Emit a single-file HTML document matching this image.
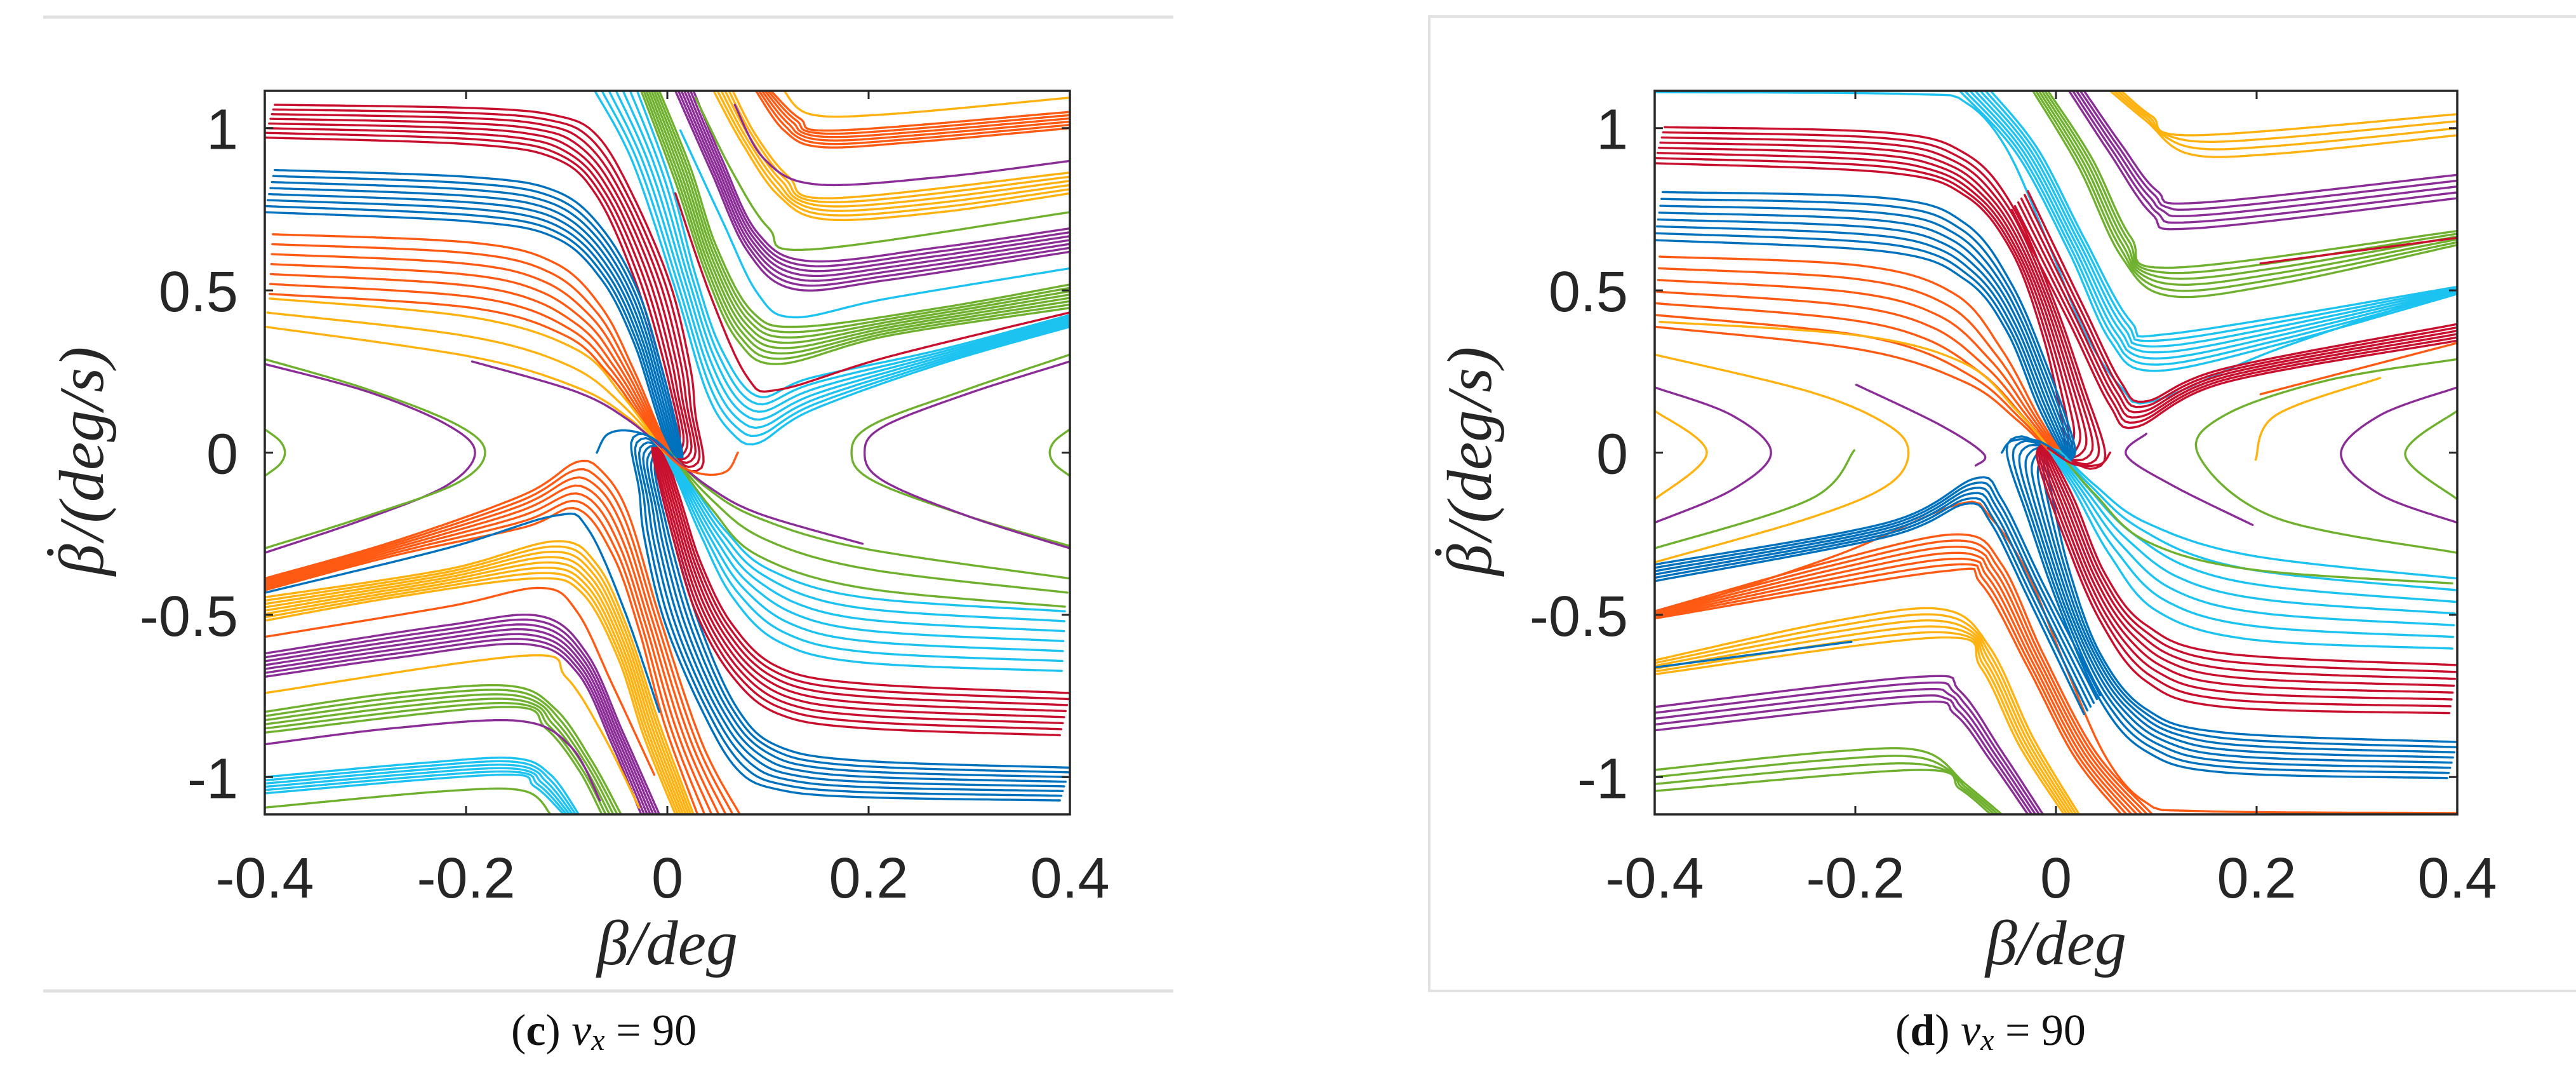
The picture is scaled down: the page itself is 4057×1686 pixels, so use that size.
<!DOCTYPE html>
<html><head><meta charset="utf-8"><style>
html,body{margin:0;padding:0;background:#fff;}
svg{display:block;}
.tick{font-family:"Liberation Sans",sans-serif;font-size:90px;fill:#262626;}
.ax{font-family:"Liberation Serif","DejaVu Serif",serif;font-style:italic;font-size:100px;fill:#262626;}
.cap{font-family:"Liberation Serif","DejaVu Serif",serif;font-size:70px;fill:#111;}
</style></head><body>
<svg id="fig" width="4057" height="1686" viewBox="0 0 4057 1686" xmlns="http://www.w3.org/2000/svg">
<defs>
<clipPath id="clipC"><rect x="417" y="143" width="1268" height="1139"/></clipPath>
<clipPath id="clipD"><rect x="2606" y="143" width="1264" height="1139"/></clipPath>
</defs>
<line x1="68" y1="27" x2="1848" y2="27" stroke="#e0e0e0" stroke-width="5"/>
<line x1="68" y1="1560" x2="1848" y2="1560" stroke="#e0e0e0" stroke-width="5"/>
<rect x="2251" y="26" width="1900" height="1534" fill="none" stroke="#e2e2e2" stroke-width="4"/>
<g id="plotC"></g>
<g id="plotD"></g>
<text class="cap" x="805" y="1645">(<tspan font-weight="bold">c</tspan>) <tspan font-style="italic">v</tspan><tspan font-style="italic" font-size="48" dy="8">x</tspan><tspan dy="-8"> = 90</tspan></text>
<text class="cap" x="2985" y="1645">(<tspan font-weight="bold">d</tspan>) <tspan font-style="italic">v</tspan><tspan font-style="italic" font-size="48" dy="8">x</tspan><tspan dy="-8"> = 90</tspan></text>
</svg>
<script>
const xTicks=[-0.4,-0.2,0,0.2,0.4];
const xTickLabels=['-0.4','-0.2','0','0.2','0.4'];
const yTicks=[-1,-0.5,0,0.5,1];
const yTickLabels=['-1','-0.5','0','0.5','1'];
const xDomain=[-0.4,0.4];
const yDomain=[-1.115,1.115];

// ---- panel (c) trajectories (upper half; lower half is drawn point-mirrored) ----
const cRedA=[[-0.390,1.072],[-0.194,1.062],[-0.111,1.039],[-0.070,0.978],[-0.034,0.791],[0.003,0.518],[0.023,0.259],[0.028,0.115],[0.036,-0.029],[0.023,-0.058],[0.010,-0.022]];
const cRedB=[[-0.400,0.971],[-0.194,0.950],[-0.111,0.906],[-0.070,0.791],[-0.034,0.547],[-0.008,0.288],[0.008,0.086],[0.010,-0.014]];
const cBlueA=[[-0.390,0.871],[-0.194,0.849],[-0.111,0.806],[-0.065,0.691],[-0.028,0.489],[-0.003,0.230],[0.013,0.029],[0.015,-0.014]];
const cBlueB=[[-0.400,0.741],[-0.194,0.712],[-0.111,0.662],[-0.065,0.532],[-0.034,0.345],[-0.013,0.144],[0.003,-0.014]];
const cOrangeA=[[-0.392,0.673],[-0.194,0.647],[-0.111,0.583],[-0.065,0.446],[-0.034,0.259],[-0.010,0.086],[0.005,-0.014]];
const cOrangeB=[[-0.395,0.489],[-0.194,0.446],[-0.101,0.360],[-0.059,0.245],[-0.028,0.115],[0.000,-0.007]];
const cYellowA=[[-0.395,0.475],[-0.194,0.417],[-0.090,0.317],[-0.044,0.173],[-0.003,0]];
const cYellowB=[[-0.400,0.388],[-0.194,0.295],[-0.090,0.201],[-0.039,0.108],[0,-0.007]];
const cPurpleIn=[[-0.194,0.281],[-0.090,0.187],[-0.039,0.101],[0,0]];
const cCyanA=[[-0.072,1.115],[-0.034,0.892],[0.008,0.504],[0.039,0.187],[0.065,0.058],[0.090,0.029],[0.142,0.129],[0.271,0.273],[0.400,0.388]];
const cCyanB=[[-0.030,1.115],[0.003,0.835],[0.028,0.547],[0.054,0.317],[0.090,0.173],[0.142,0.230],[0.271,0.317],[0.400,0.424]];
const cRedOne=[[0.008,0.799],[0.044,0.475],[0.080,0.230],[0.111,0.194],[0.219,0.295],[0.400,0.432]];
const cGreenA=[[-0.026,1.115],[0.008,0.835],[0.039,0.547],[0.070,0.345],[0.111,0.273],[0.219,0.360],[0.400,0.446]];
const cGreenB=[[-0.008,1.115],[0.023,0.878],[0.049,0.633],[0.085,0.432],[0.132,0.388],[0.271,0.446],[0.400,0.518]];
const cCyanOne=[[0.013,0.993],[0.054,0.719],[0.090,0.489],[0.126,0.417],[0.219,0.475],[0.400,0.568]];
const cPurpleA=[[0.008,1.115],[0.044,0.863],[0.080,0.619],[0.126,0.504],[0.219,0.532],[0.400,0.619]];
const cPurpleB=[[0.026,1.115],[0.054,0.906],[0.090,0.676],[0.142,0.590],[0.271,0.633],[0.400,0.691]];
const cGreenOne=[[0.028,1.094],[0.065,0.863],[0.101,0.691],[0.142,0.626],[0.400,0.741]];
const cYellowTA=[[0.046,1.115],[0.075,0.950],[0.111,0.791],[0.157,0.719],[0.271,0.741],[0.400,0.799]];
const cYellowTB=[[0.065,1.115],[0.088,0.978],[0.121,0.849],[0.163,0.784],[0.400,0.863]];
const cPurpleOne=[[0.067,1.072],[0.096,0.906],[0.147,0.827],[0.271,0.849],[0.400,0.899]];
const cOrangeTA=[[0.088,1.115],[0.116,0.993],[0.152,0.942],[0.245,0.957],[0.400,1.000]];
const cOrangeTB=[[0.103,1.115],[0.132,1.029],[0.168,0.993],[0.400,1.050]];
const cYellowOne=[[0.116,1.115],[0.142,1.043],[0.219,1.043],[0.400,1.094]];
const cLoop=[[-0.070,0.0],[-0.060,0.055],[-0.040,0.068],[-0.015,0.045],[0.005,-0.010]];
const cHypLP=[[-0.400,0.273],[-0.297,0.187],[-0.219,0.086],[-0.191,0],[-0.219,-0.101],[-0.297,-0.201],[-0.400,-0.309]];
const cHypLG=[[-0.400,0.288],[-0.297,0.194],[-0.209,0.086],[-0.181,0],[-0.209,-0.094],[-0.297,-0.194],[-0.400,-0.295]];
const cHypRG=[[0.400,0.302],[0.297,0.194],[0.204,0.086],[0.183,0],[0.204,-0.086],[0.297,-0.194],[0.400,-0.288]];
const cHypRP=[[0.400,0.281],[0.297,0.180],[0.214,0.079],[0.196,0],[0.214,-0.086],[0.297,-0.194],[0.400,-0.295]];
const cArcL=[[-0.400,0.072],[-0.385,0.036],[-0.380,0],[-0.385,-0.036],[-0.400,-0.072]];
const cArcR=[[0.400,0.072],[0.385,0.036],[0.380,0],[0.385,-0.036],[0.400,-0.072]];

// ---- panel (d) trajectories ----
const dCyanTop=[[-0.400,1.111],[-0.142,1.105],[-0.090,1.079],[-0.049,0.935],[-0.008,0.647],[0.028,0.374],[0.065,0.201],[0.096,0.158],[0.219,0.317],[0.400,0.504]];
const dRedA=[[-0.390,1.003],[-0.168,0.986],[-0.090,0.921],[-0.044,0.763],[-0.003,0.475],[0.028,0.201],[0.049,0],[0.036,-0.050],[0.013,-0.022]];
const dRedB=[[-0.400,0.892],[-0.168,0.863],[-0.090,0.791],[-0.044,0.619],[-0.013,0.360],[0.005,0.115],[0.010,-0.014]];
const dBlueA=[[-0.392,0.803],[-0.168,0.784],[-0.090,0.705],[-0.044,0.518],[-0.008,0.259],[0.018,0.029],[0.015,-0.022]];
const dBlueB=[[-0.400,0.655],[-0.168,0.619],[-0.090,0.532],[-0.049,0.374],[-0.018,0.144],[0.008,-0.014]];
const dOrangeA=[[-0.395,0.604],[-0.194,0.576],[-0.101,0.489],[-0.054,0.317],[-0.018,0.115],[0.008,-0.014]];
const dOrangeB=[[-0.400,0.388],[-0.194,0.317],[-0.090,0.216],[-0.039,0.101],[-0.003,-0.007]];
const dYellowOne=[[-0.395,0.403],[-0.194,0.360],[-0.090,0.273],[-0.039,0.129],[-0.003,0]];
const dBandA=[[-0.044,0.748],[0.013,0.403],[0.054,0.144],[0.080,0.079],[0.168,0.216],[0.400,0.345]];
const dBandB=[[-0.028,0.806],[0.028,0.446],[0.065,0.216],[0.090,0.158],[0.168,0.259],[0.400,0.396]];
const dCyanA=[[-0.096,1.115],[-0.039,0.921],[0.013,0.619],[0.054,0.345],[0.096,0.252],[0.219,0.331],[0.400,0.489]];
const dCyanB=[[-0.065,1.115],[-0.018,0.935],[0.028,0.662],[0.075,0.403],[0.116,0.367],[0.400,0.511]];
const dGreenA=[[-0.023,1.115],[0.023,0.878],[0.065,0.605],[0.111,0.484],[0.219,0.518],[0.400,0.640]];
const dGreenB=[[-0.008,1.115],[0.036,0.906],[0.075,0.662],[0.116,0.570],[0.400,0.683]];
const dRedSeg=[[0.204,0.583],[0.400,0.662]];
const dPurpleA=[[0.013,1.115],[0.054,0.921],[0.096,0.734],[0.137,0.691],[0.400,0.784]];
const dPurpleB=[[0.028,1.115],[0.065,0.950],[0.101,0.806],[0.142,0.770],[0.400,0.856]];
const dYellowA=[[0.054,1.115],[0.090,1.022],[0.132,0.921],[0.219,0.921],[0.400,0.978]];
const dYellowB=[[0.065,1.115],[0.096,1.036],[0.137,0.978],[0.400,1.043]];
const dLoop=[[-0.054,0],[-0.044,0.036],[-0.018,0.036],[0.008,-0.014]];
const dHypLY=[[-0.400,0.302],[-0.245,0.187],[-0.168,0.086],[-0.147,0],[-0.168,-0.101],[-0.245,-0.201],[-0.400,-0.338]];
const dHypLP=[[-0.400,0.201],[-0.323,0.115],[-0.284,0],[-0.323,-0.115],[-0.400,-0.216]];
const dHypLYs=[[-0.400,0.129],[-0.348,0],[-0.400,-0.144]];
const dHypLG=[[-0.201,0.007],[-0.245,-0.144],[-0.400,-0.295]];
const dHypMP=[[-0.199,0.209],[-0.116,0.086],[-0.072,-0.004],[-0.080,-0.040]];
const dHypRPm=[[0.196,-0.223],[0.116,-0.101],[0.070,-0.007],[0.090,0.058]];
const dHypRG=[[0.400,-0.309],[0.219,-0.201],[0.142,-0.007],[0.168,0.115],[0.271,0.223],[0.400,0.288]];
const dHypRP=[[0.400,0.201],[0.323,0.115],[0.284,-0.004],[0.323,-0.129],[0.400,-0.216]];
const dHypRGs=[[0.400,0.129],[0.348,-0.004],[0.400,-0.144]];
const dHypRY=[[0.199,-0.022],[0.219,0.115],[0.323,0.230]];
const dOrangeSeg=[[0.204,0.180],[0.400,0.338]];

const COL={blue:'#0072BD',orange:'#FF5A14',yellow:'#FFB20F',purple:'#8B2D96',green:'#6FB12E',cyan:'#1DC3F0',red:'#C8102E'};

const cBundles=[
 {a:cRedA,b:cRedB,n:8,c:'red',m:'blue'},
 {a:cBlueA,b:cBlueB,n:8,c:'blue',m:'red'},
 {a:cOrangeA,b:cOrangeB,n:7,c:'orange',m:'cyan'},
 {a:cYellowA,b:cYellowB,n:3,c:'yellow',m:'green'},
 {a:cPurpleIn,b:cPurpleIn,n:1,c:'purple',m:'purple'},
 {a:cCyanA,b:cCyanB,n:7,c:'cyan',m:'orange'},
 {a:cRedOne,b:cRedOne,n:1,c:'red',m:'blue'},
 {a:cGreenA,b:cGreenB,n:8,c:'green',m:'yellow'},
 {a:cCyanOne,b:cCyanOne,n:1,c:'cyan',m:'orange'},
 {a:cPurpleA,b:cPurpleB,n:7,c:'purple',m:'purple'},
 {a:cGreenOne,b:cGreenOne,n:1,c:'green',m:'yellow'},
 {a:cYellowTA,b:cYellowTB,n:6,c:'yellow',m:'green'},
 {a:cPurpleOne,b:cPurpleOne,n:1,c:'purple',m:'purple'},
 {a:cOrangeTA,b:cOrangeTB,n:6,c:'orange',m:'cyan'},
 {a:cYellowOne,b:cYellowOne,n:1,c:'yellow',m:'green'},
 {a:cLoop,b:cLoop,n:1,c:'blue',m:'orange'}
];
const cSingles=[[cHypLP,'purple'],[cHypLG,'green'],[cHypRG,'green'],[cHypRP,'purple'],[cArcL,'green'],[cArcR,'green']];

const dBundles=[
 {a:dCyanTop,b:dCyanTop,n:1,c:'cyan',m:'orange'},
 {a:dRedA,b:dRedB,n:8,c:'red',m:'blue'},
 {a:dBlueA,b:dBlueB,n:8,c:'blue',m:'red'},
 {a:dOrangeA,b:dOrangeB,n:7,c:'orange',m:'cyan'},
 {a:dYellowOne,b:dYellowOne,n:1,c:'yellow',m:'green'},
 {a:dBandA,b:dBandB,n:6,c:'red',m:'blue'},
 {a:dCyanA,b:dCyanB,n:7,c:'cyan',m:'orange'},
 {a:dGreenA,b:dGreenB,n:6,c:'green',m:'yellow'},
 {a:dRedSeg,b:dRedSeg,n:1,c:'red',m:'blue'},
 {a:dPurpleA,b:dPurpleB,n:5,c:'purple',m:'purple'},
 {a:dYellowA,b:dYellowB,n:4,c:'yellow',m:'green'},
 {a:dLoop,b:dLoop,n:1,c:'blue',m:'red'}
];
const dSingles=[[dHypLY,'yellow'],[dHypLP,'purple'],[dHypLYs,'yellow'],[dHypLG,'green'],[dHypMP,'purple'],[dHypRPm,'purple'],[dHypRG,'green'],[dHypRP,'purple'],[dHypRGs,'green'],[dHypRY,'yellow'],[dOrangeSeg,'orange']];

const NS='http://www.w3.org/2000/svg';
function mk(tag,attrs,parent){const e=document.createElementNS(NS,tag);for(const k in attrs)e.setAttribute(k,attrs[k]);parent.appendChild(e);return e;}

function makeAxes(box){
  const sx=v=>box.x0+(v-xDomain[0])/(xDomain[1]-xDomain[0])*(box.x1-box.x0);
  const sy=v=>box.y0+(yDomain[1]-v)/(yDomain[1]-yDomain[0])*(box.y1-box.y0);
  return {sx,sy};
}
function smooth(p){
  if(p.length<3)return p.slice();
  const out=[];
  for(let i=0;i<p.length-1;i++){
    const p0=p[Math.max(0,i-1)],p1=p[i],p2=p[i+1],p3=p[Math.min(p.length-1,i+2)];
    for(let s=0;s<16;s++){const t=s/16,t2=t*t,t3=t2*t;
      out.push([0.5*((2*p1[0])+(-p0[0]+p2[0])*t+(2*p0[0]-5*p1[0]+4*p2[0]-p3[0])*t2+(-p0[0]+3*p1[0]-3*p2[0]+p3[0])*t3),
                0.5*((2*p1[1])+(-p0[1]+p2[1])*t+(2*p0[1]-5*p1[1]+4*p2[1]-p3[1])*t2+(-p0[1]+3*p1[1]-3*p2[1]+p3[1])*t3)]);}
  }
  out.push(p[p.length-1]);return out;
}
function resample(p,M){
  const L=[0];for(let i=1;i<p.length;i++)L.push(L[i-1]+Math.hypot(p[i][0]-p[i-1][0],p[i][1]-p[i-1][1]));
  const tot=L[L.length-1]||1,out=[];let j=0;
  for(let k=0;k<M;k++){const d=tot*k/(M-1);while(j<p.length-2&&L[j+1]<d)j++;
    const seg=(L[j+1]-L[j])||1,t=Math.min(1,Math.max(0,(d-L[j])/seg));
    out.push([p[j][0]+t*(p[j+1][0]-p[j][0]),p[j][1]+t*(p[j+1][1]-p[j][1])]);}
  return out;
}
function drawLine(g,pts,color){
  const d='M'+pts.map(q=>q[0].toFixed(1)+','+q[1].toFixed(1)).join('L');
  const el=mk('path',{d:d,fill:'none',stroke:COL[color],'stroke-width':3.4,'stroke-linejoin':'round','stroke-linecap':'round'},g);
  
  
}
function drawBundle(g,ax,A,B,n,color){
  const toPx=q=>[ax.sx(q[0]),ax.sy(q[1])];
  const pa=resample(smooth(A.map(toPx)),120),pb=resample(smooth(B.map(toPx)),120);
  for(let i=0;i<n;i++){const t=n>1?i/(n-1):0;
    drawLine(g,pa.map((q,k)=>[q[0]+t*(pb[k][0]-q[0]),q[1]+t*(pb[k][1]-q[1])]),color);}
}
const mirror=arr=>arr.map(q=>[-q[0],-q[1]]);

function buildPanel(gid,clipId,box,bundles,singles,letter,ylx,xlab){
  const g=document.getElementById(gid);
  const ax=makeAxes(box);
  const lines=mk('g',{'clip-path':'url(#'+clipId+')'},g);
  
  
  bundles.forEach(b=>{drawBundle(lines,ax,b.a,b.b,b.n,b.c);drawBundle(lines,ax,mirror(b.a),mirror(b.b),b.n,b.m);});
  singles.forEach(s=>drawBundle(lines,ax,s[0],s[0],1,s[1]));
  const frame=mk('rect',{x:box.x0,y:box.y0,width:box.x1-box.x0,height:box.y1-box.y0,fill:'none',stroke:'#262626','stroke-width':3.5},g);
  
  
  xTicks.forEach((v,i)=>{const x=ax.sx(v);
    mk('line',{x1:x,y1:box.y1,x2:x,y2:box.y1-13,stroke:'#262626','stroke-width':3},g);
    mk('line',{x1:x,y1:box.y0,x2:x,y2:box.y0+13,stroke:'#262626','stroke-width':3},g);
    const t=mk('text',{x:x,y:1413,'text-anchor':'middle',class:'tick'},g);t.textContent=xTickLabels[i];
    
    });
  yTicks.forEach((v,i)=>{const y=ax.sy(v);
    mk('line',{x1:box.x0,y1:y,x2:box.x0+13,y2:y,stroke:'#262626','stroke-width':3},g);
    mk('line',{x1:box.x1,y1:y,x2:box.x1-13,y2:y,stroke:'#262626','stroke-width':3},g);
    const t=mk('text',{x:box.x0-42,y:y+33,'text-anchor':'end',class:'tick'},g);t.textContent=yTickLabels[i];
    
    });
  const xl=mk('text',{x:xlab,y:1518,'text-anchor':'middle',class:'ax'},g);xl.textContent='β/deg';
  
  
  const yl=mk('text',{x:0,y:0,'text-anchor':'middle',class:'ax',transform:'translate('+ylx+',726) rotate(-90)'},g);
  
  
  const t1=mk('tspan',{},yl);t1.textContent='β';
  const t2=mk('tspan',{dx:-36,dy:-22},yl);t2.textContent='˙';
  const t3=mk('tspan',{dx:8,dy:22},yl);t3.textContent='/(deg/s)';
}
buildPanel('plotC','clipC',{x0:417,x1:1685,y0:143,y1:1282},cBundles,cSingles,'c',162,1051);
buildPanel('plotD','clipD',{x0:2606,x1:3870,y0:143,y1:1282},dBundles,dSingles,'d',2348,3238);
</script>
</body></html>
